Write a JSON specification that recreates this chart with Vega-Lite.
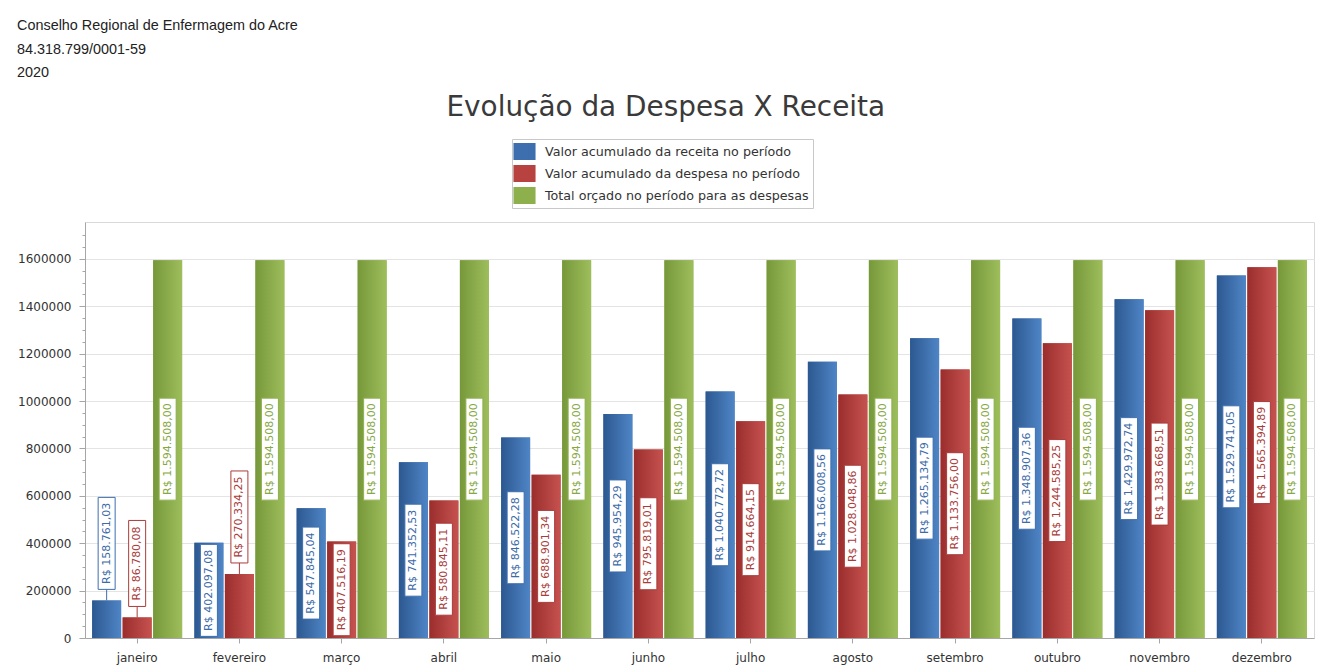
{
  "$schema": "https://vega.github.io/schema/vega-lite/v6.json",
  "padding": {"left": 17, "top": 18, "right": 10, "bottom": 5},
  "background": "white",
  "config": {
    "locale": {"number": {"decimal": ",", "thousands": ".", "grouping": [3], "currency": ["R$ ", ""]}},
    "view": {"stroke": "#d9d9d9"},
    "axis": {"labelFont": "DejaVu Sans", "labelFontSize": 12, "labelColor": "#333333", "domainColor": "#a6a6a6", "tickColor": "#a6a6a6", "gridColor": "#e4e4e4"},
    "legend": {"orient": "none", "legendX": 427, "legendY": -83, "direction": "vertical", "strokeColor": "#c8c8c8", "fillColor": "white", "padding": 4, "symbolType": "M-1.3,-1H1.3V1H-1.3Z", "symbolSize": 289, "symbolStrokeWidth": 0, "symbolOpacity": 1, "rowPadding": 5, "labelFont": "DejaVu Sans", "labelFontSize": 12.7, "labelColor": "#333333", "labelOffset": 12, "labelLimit": 0}
  },
  "title": {"text": ["Conselho Regional de Enfermagem do Acre", "84.318.799/0001-59", "2020"], "anchor": "start", "font": "Liberation Sans", "fontSize": 14.4, "fontWeight": "normal", "color": "#222222", "lineHeight": 23.5, "offset": 13},
  "vconcat": [
    {
      "title": {"text": "Evolução da Despesa X Receita", "font": "DejaVu Sans", "fontSize": 27.9, "fontWeight": "normal", "color": "#3a3a3a", "anchor": "middle", "frame": "bounds", "offset": 100},
      "width": 1229,
      "height": 416,
      "data": {"values": [
        {"mes": "janeiro", "serie": "Valor acumulado da receita no período", "valor": 158761.03},
        {"mes": "janeiro", "serie": "Valor acumulado da despesa no período", "valor": 86780.08},
        {"mes": "janeiro", "serie": "Total orçado no período para as despesas", "valor": 1594508.00},
        {"mes": "fevereiro", "serie": "Valor acumulado da receita no período", "valor": 402097.08},
        {"mes": "fevereiro", "serie": "Valor acumulado da despesa no período", "valor": 270334.25},
        {"mes": "fevereiro", "serie": "Total orçado no período para as despesas", "valor": 1594508.00},
        {"mes": "março", "serie": "Valor acumulado da receita no período", "valor": 547845.04},
        {"mes": "março", "serie": "Valor acumulado da despesa no período", "valor": 407516.19},
        {"mes": "março", "serie": "Total orçado no período para as despesas", "valor": 1594508.00},
        {"mes": "abril", "serie": "Valor acumulado da receita no período", "valor": 741352.53},
        {"mes": "abril", "serie": "Valor acumulado da despesa no período", "valor": 580845.11},
        {"mes": "abril", "serie": "Total orçado no período para as despesas", "valor": 1594508.00},
        {"mes": "maio", "serie": "Valor acumulado da receita no período", "valor": 846522.28},
        {"mes": "maio", "serie": "Valor acumulado da despesa no período", "valor": 688901.34},
        {"mes": "maio", "serie": "Total orçado no período para as despesas", "valor": 1594508.00},
        {"mes": "junho", "serie": "Valor acumulado da receita no período", "valor": 945954.29},
        {"mes": "junho", "serie": "Valor acumulado da despesa no período", "valor": 795819.01},
        {"mes": "junho", "serie": "Total orçado no período para as despesas", "valor": 1594508.00},
        {"mes": "julho", "serie": "Valor acumulado da receita no período", "valor": 1040772.72},
        {"mes": "julho", "serie": "Valor acumulado da despesa no período", "valor": 914664.15},
        {"mes": "julho", "serie": "Total orçado no período para as despesas", "valor": 1594508.00},
        {"mes": "agosto", "serie": "Valor acumulado da receita no período", "valor": 1166008.56},
        {"mes": "agosto", "serie": "Valor acumulado da despesa no período", "valor": 1028048.86},
        {"mes": "agosto", "serie": "Total orçado no período para as despesas", "valor": 1594508.00},
        {"mes": "setembro", "serie": "Valor acumulado da receita no período", "valor": 1265134.79},
        {"mes": "setembro", "serie": "Valor acumulado da despesa no período", "valor": 1133756.00},
        {"mes": "setembro", "serie": "Total orçado no período para as despesas", "valor": 1594508.00},
        {"mes": "outubro", "serie": "Valor acumulado da receita no período", "valor": 1348907.36},
        {"mes": "outubro", "serie": "Valor acumulado da despesa no período", "valor": 1244585.25},
        {"mes": "outubro", "serie": "Total orçado no período para as despesas", "valor": 1594508.00},
        {"mes": "novembro", "serie": "Valor acumulado da receita no período", "valor": 1429972.74},
        {"mes": "novembro", "serie": "Valor acumulado da despesa no período", "valor": 1383668.51},
        {"mes": "novembro", "serie": "Total orçado no período para as despesas", "valor": 1594508.00},
        {"mes": "dezembro", "serie": "Valor acumulado da receita no período", "valor": 1529741.05},
        {"mes": "dezembro", "serie": "Valor acumulado da despesa no período", "valor": 1565394.89},
        {"mes": "dezembro", "serie": "Total orçado no período para as despesas", "valor": 1594508.00}
      ]},
      "transform": [
        {"calculate": "datum.valor >= 1000000 ? 102 : (datum.valor >= 100000 ? 92 : 86)", "as": "hpx"},
        {"calculate": "datum.valor / 4221.15 >= datum.hpx + 2", "as": "inside"},
        {"calculate": "datum.inside ? datum.valor / 2 : datum.valor + (11 + datum.hpx / 2) * 4221.15", "as": "ymid"},
        {"calculate": "datum.ymid - datum.hpx / 2 * 4221.15", "as": "ylo"},
        {"calculate": "datum.ymid + datum.hpx / 2 * 4221.15", "as": "yhi"}
      ],
      "encoding": {
        "x": {"field": "mes", "type": "nominal", "sort": ["janeiro", "fevereiro", "março", "abril", "maio", "junho", "julho", "agosto", "setembro", "outubro", "novembro", "dezembro"], "scale": {"paddingInner": 0.12, "paddingOuter": 0.07}, "axis": {"title": null, "labelAngle": 0, "labelPadding": 9, "tickSize": 5}},
        "xOffset": {"field": "serie", "type": "nominal", "sort": ["Valor acumulado da receita no período", "Valor acumulado da despesa no período", "Total orçado no período para as despesas"], "scale": {"paddingInner": 0.05}}
      },
      "resolve": {"axis": {"y": "independent"}},
      "layer": [
        {
          "mark": {"type": "bar"},
          "encoding": {
            "y": {"field": "valor", "type": "quantitative", "scale": {"domain": [0, 1756000], "nice": false, "zero": true}, "axis": {"title": null, "orient": "left", "values": [0, 200000, 400000, 600000, 800000, 1000000, 1200000, 1400000, 1600000], "format": "d", "tickSize": 6, "labelPadding": 8}},
            "color": {"field": "serie", "type": "nominal", "sort": ["Valor acumulado da receita no período", "Valor acumulado da despesa no período", "Total orçado no período para as despesas"], "scale": {"domain": ["Valor acumulado da receita no período", "Valor acumulado da despesa no período", "Total orçado no período para as despesas"], "range": ["#3d6fae", "#b8423f", "#8db04d"]}, "legend": {"title": null}}
          }
        },
        {
          "transform": [{"filter": "datum.serie == 'Valor acumulado da receita no período'"}],
          "mark": {"type": "bar", "color": {"gradient": "linear", "x1": 0, "x2": 1, "y1": 0, "y2": 0, "stops": [{"offset": 0, "color": "#2c5890"}, {"offset": 1, "color": "#4f85c6"}]}},
          "encoding": {"y": {"field": "valor", "type": "quantitative", "axis": {"title": null, "orient": "left", "values": [50000, 100000, 150000, 250000, 300000, 350000, 450000, 500000, 550000, 650000, 700000, 750000, 850000, 900000, 950000, 1050000, 1100000, 1150000, 1250000, 1300000, 1350000, 1450000, 1500000, 1550000, 1650000, 1700000], "labels": false, "grid": false, "domain": false, "tickSize": 3}}}
        },
        {
          "transform": [{"filter": "datum.serie == 'Valor acumulado da despesa no período'"}],
          "mark": {"type": "bar", "color": {"gradient": "linear", "x1": 0, "x2": 1, "y1": 0, "y2": 0, "stops": [{"offset": 0, "color": "#9a2e2d"}, {"offset": 1, "color": "#c6524f"}]}},
          "encoding": {"y": {"field": "valor", "type": "quantitative", "axis": null}}
        },
        {
          "transform": [{"filter": "datum.serie == 'Total orçado no período para as despesas'"}],
          "mark": {"type": "bar", "color": {"gradient": "linear", "x1": 0, "x2": 1, "y1": 0, "y2": 0, "stops": [{"offset": 0, "color": "#77983a"}, {"offset": 1, "color": "#9ebe5c"}]}},
          "encoding": {"y": {"field": "valor", "type": "quantitative", "axis": null}}
        },
        {
          "transform": [{"filter": "!datum.inside"}],
          "mark": {"type": "rule", "strokeWidth": 1},
          "encoding": {
            "y": {"field": "valor", "type": "quantitative", "axis": null},
            "y2": {"field": "ylo"},
            "stroke": {"field": "serie", "type": "nominal", "scale": {"domain": ["Valor acumulado da receita no período", "Valor acumulado da despesa no período", "Total orçado no período para as despesas"], "range": ["#3d6fae", "#a83c3a", "#8db04d"]}, "legend": null}
          }
        },
        {
          "mark": {"type": "bar", "width": 17, "fill": "white", "strokeWidth": 1},
          "encoding": {
            "y": {"field": "ylo", "type": "quantitative", "axis": null},
            "y2": {"field": "yhi"},
            "stroke": {"field": "serie", "type": "nominal", "legend": null}
          }
        },
        {
          "mark": {"type": "text", "angle": 270, "align": "center", "baseline": "middle", "font": "DejaVu Sans", "fontSize": 11},
          "encoding": {
            "y": {"field": "ymid", "type": "quantitative", "axis": null},
            "text": {"field": "valor", "type": "quantitative", "format": "$,.2f"},
            "fill": {"field": "serie", "type": "nominal", "scale": {"domain": ["Valor acumulado da receita no período", "Valor acumulado da despesa no período", "Total orçado no período para as despesas"], "range": ["#3b6ba8", "#a83c3a", "#86a844"]}, "legend": null}
          }
        }
      ]
    }
  ]
}
